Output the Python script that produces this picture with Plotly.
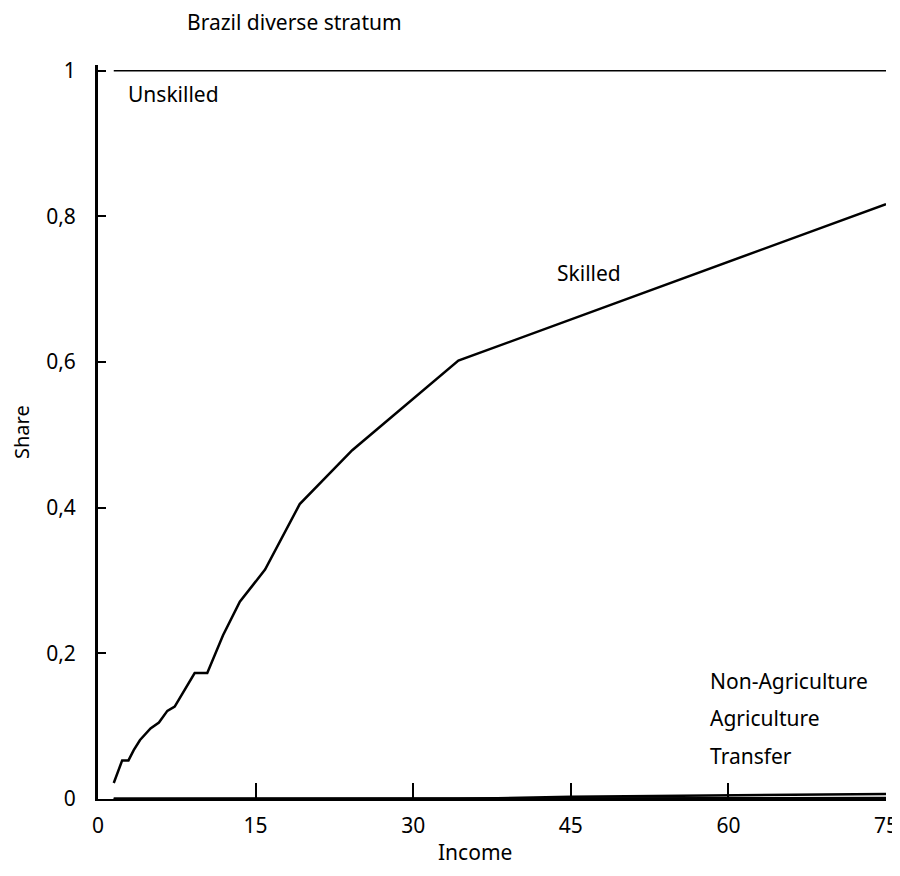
import plotly.graph_objects as go

# Cumulative share boundaries (stacked shares) vs income
income_skilled = [1.5, 2.3, 2.9, 3.4, 4.0, 5.0, 5.8, 6.6, 7.3, 9.2, 10.4, 11.9, 13.5, 15.9, 19.2, 24.2, 34.3, 75]
skilled_cum = [0.022, 0.053, 0.053, 0.067, 0.081, 0.097, 0.105, 0.121, 0.127, 0.173, 0.173, 0.225, 0.271, 0.315, 0.405, 0.479, 0.602, 0.817]

income_unskilled = [1.5, 75]
unskilled_cum = [1.0, 1.0]

income_low = [1.5, 34.3, 45, 60, 75]
transfer_cum = [0.0, 0.0, 0.0, 0.0, 0.0]
agriculture_cum = [0.0, 0.0, 0.0005, 0.001, 0.0015]
nonagri_cum = [0.0, 0.0, 0.003, 0.0055, 0.007]

x_ticks = [0, 15, 30, 45, 60, 75]
y_ticks = [0, 0.2, 0.4, 0.6, 0.8, 1]
y_ticktext = ["0", "0,2", "0,4", "0,6", "0,8", "1"]

FONT = "Noto Sans"
FS = 21
fig = go.Figure()

fig.add_trace(go.Scatter(x=income_unskilled, y=unskilled_cum, mode="lines",
                         line=dict(color="black", width=1.5), name="Unskilled"))
fig.add_trace(go.Scatter(x=income_skilled, y=skilled_cum, mode="lines",
                         line=dict(color="black", width=2.5), name="Skilled"))
fig.add_trace(go.Scatter(x=income_low, y=nonagri_cum, mode="lines",
                         line=dict(color="black", width=2.5), name="Non-Agriculture"))
fig.add_trace(go.Scatter(x=income_low, y=agriculture_cum, mode="lines",
                         line=dict(color="black", width=2.5), name="Agriculture"))
fig.add_trace(go.Scatter(x=income_low, y=transfer_cum, mode="lines",
                         line=dict(color="black", width=3), name="Transfer"))

annos = [
    dict(x=2.7, y=0.968, text="Unskilled", xanchor="left"),
    dict(x=46.7, y=0.722, text="Skilled", xanchor="center"),
    dict(x=58.1, y=0.162, text="Non-Agriculture", xanchor="left"),
    dict(x=58.1, y=0.111, text="Agriculture", xanchor="left"),
    dict(x=58.1, y=0.059, text="Transfer", xanchor="left"),
]
for a in annos:
    fig.add_annotation(x=a["x"], y=a["y"], text=a["text"], xanchor=a["xanchor"],
                       yanchor="middle", showarrow=False,
                       font=dict(family=FONT, size=FS, color="black"))

# Title and axis titles placed relative to the plot area
fig.add_annotation(xref="paper", yref="paper", x=0, y=1, xshift=87, yshift=43,
                   text="Brazil diverse stratum", xanchor="left", yanchor="middle",
                   showarrow=False, font=dict(family=FONT, size=FS, color="black"))
fig.add_annotation(xref="paper", yref="paper", x=0.478, y=0, yshift=-53,
                   text="Income", xanchor="center", yanchor="middle",
                   showarrow=False, font=dict(family=FONT, size=FS, color="black"))
fig.add_annotation(xref="paper", yref="paper", x=0, y=0.5, xshift=-77,
                   text="Share", textangle=-90, xanchor="center", yanchor="middle",
                   showarrow=False, font=dict(family=FONT, size=20, color="black"))

# page body has an 8px margin -> compensate so plot area sits at x 98..886, y 65..799
fig.update_layout(
    width=892, height=860,
    margin=dict(l=90, r=14, t=57, b=69),
    plot_bgcolor="white", paper_bgcolor="white",
    showlegend=False,
    font=dict(family=FONT, size=FS, color="black"),
    xaxis=dict(range=[0, 75], tickvals=x_ticks, ticks="inside", ticklen=16,
               tickwidth=1.5, tickcolor="black", showline=True, linecolor="black",
               linewidth=1.5, showgrid=False, zeroline=False, automargin=False,
               ticklabelstandoff=7, ticklabeloverflow="allow", tickfont=dict(size=FS)),
    yaxis=dict(range=[0, 1.008], tickvals=y_ticks, ticktext=y_ticktext,
               ticks="inside", ticklen=8, tickwidth=1.5, tickcolor="black",
               showline=True, linecolor="black", linewidth=3, showgrid=False,
               zeroline=False, automargin=False, ticklabelstandoff=15,
               ticklabeloverflow="allow", tickfont=dict(size=FS)),
)

fig.write_html("out.html")
